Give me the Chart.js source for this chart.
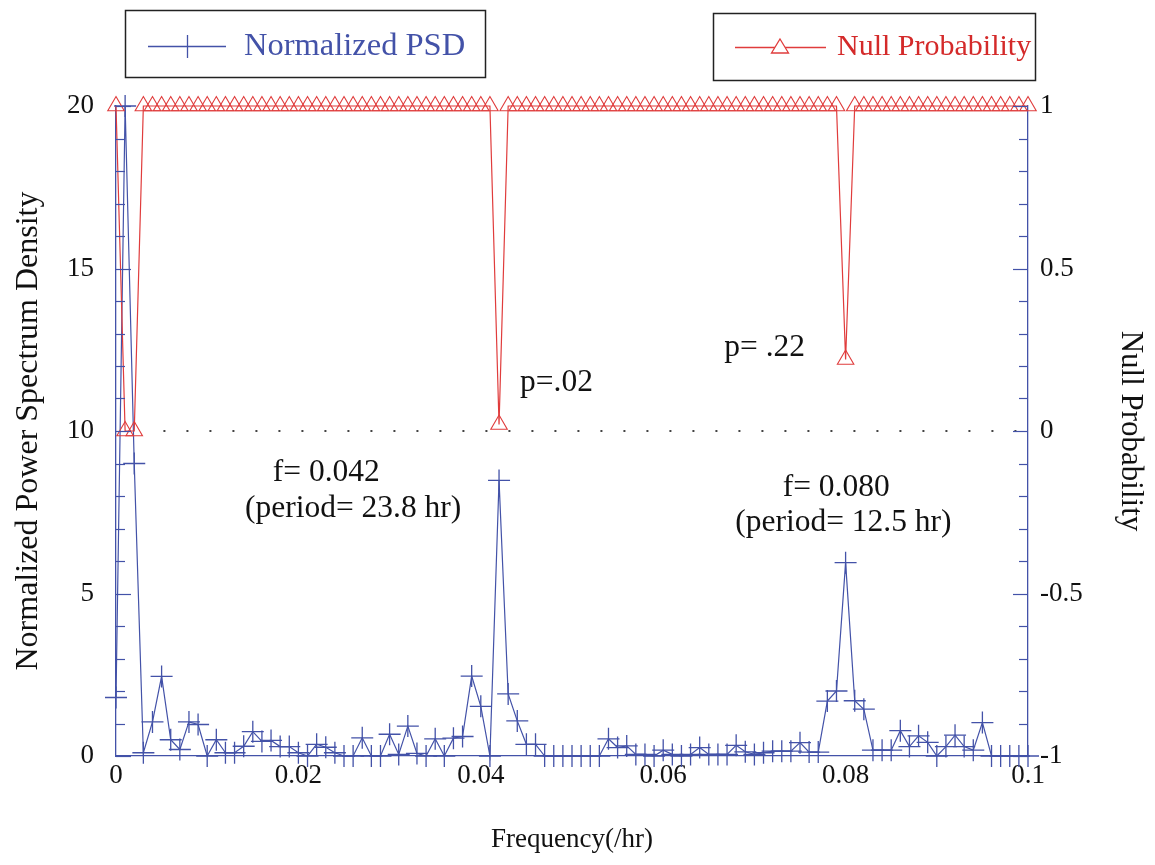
<!DOCTYPE html>
<html>
<head>
<meta charset="utf-8">
<script src="https://cdn.jsdelivr.net/npm/chart.js@4.4.0/dist/chart.umd.min.js"></script>
<style>
html,body{margin:0;padding:0;background:#fff;}
#wrap{width:1155px;height:865px;position:relative;}
</style>
</head>
<body>
<div id="wrap"><canvas id="c" width="1155" height="865"></canvas></div>
<script>
// ---- data ----
const frequency = [
 0.000,0.001,0.002,0.003,0.004,0.005,0.006,0.007,0.008,0.009,
 0.010,0.011,0.012,0.013,0.014,0.015,0.016,0.017,0.018,0.019,
 0.020,0.021,0.022,0.023,0.024,0.025,0.026,0.027,0.028,0.029,
 0.030,0.031,0.032,0.033,0.034,0.035,0.036,0.037,0.038,0.039,
 0.040,0.041,0.042,0.043,0.044,0.045,0.046,0.047,0.048,0.049,
 0.050,0.051,0.052,0.053,0.054,0.055,0.056,0.057,0.058,0.059,
 0.060,0.061,0.062,0.063,0.064,0.065,0.066,0.067,0.068,0.069,
 0.070,0.071,0.072,0.073,0.074,0.075,0.076,0.077,0.078,0.079,
 0.080,0.081,0.082,0.083,0.084,0.085,0.086,0.087,0.088,0.089,
 0.090,0.091,0.092,0.093,0.094,0.095,0.096,0.097,0.098,0.099,
 0.100
];
const normalizedPSD = [
 1.8,20,9.0,0.1,1.05,2.45,0.5,0.2,1.05,0.97,
 0,0.5,0.1,0.1,0.3,0.75,0.45,0.48,0.29,0.29,
 0.1,0,0.36,0.27,0.1,0,0,0.56,0,0,
 0.67,0.05,0.92,0.08,0,0.53,0,0.55,0.6,2.46,
 1.53,0,8.48,1.91,1.08,0.36,0.36,0,0,0,
 0,0,0,0,0.53,0.26,0.31,0.05,0.05,0,
 0.18,0.05,0,0.05,0.26,0.05,0.05,0.05,0.33,0.13,
 0.05,0.1,0.15,0.15,0.15,0.41,0.12,0.12,1.69,2.0,
 5.95,1.7,1.44,0.18,0.18,0.18,0.78,0.29,0.62,0.42,
 0,0.29,0.64,0.29,0.18,1.03,0,0,0,0,
 0
];
const nullProbability = [
 1,0,0,1,1,1,1,1,1,1,
 1,1,1,1,1,1,1,1,1,1,
 1,1,1,1,1,1,1,1,1,1,
 1,1,1,1,1,1,1,1,1,1,
 1,1,0.02,1,1,1,1,1,1,1,
 1,1,1,1,1,1,1,1,1,1,
 1,1,1,1,1,1,1,1,1,1,
 1,1,1,1,1,1,1,1,1,1,
 0.22,1,1,1,1,1,1,1,1,1,
 1,1,1,1,1,1,1,1,1,1,
 1
];
const refLineX = [0.0052, 0.1];
const refLineY = [10, 10];
const xTickLabels = ['0','0.02','0.04','0.06','0.08','0.1'];
const leftTickLabels = ['0','5','10','15','20'];
const rightTickLabels = ['-1','-0.5','0','0.5','1'];
const seriesNames = ['Normalized PSD','Null Probability'];
const annotationTexts = ['p=.02','p= .22','f= 0.042','(period= 23.8 hr)','f= 0.080','(period= 12.5 hr)'];

// ---- styling / layout (not data) ----
const BLUE = '#4352a8';
const RED = '#e03c3c';
const SERIF = "'Liberation Serif', 'DejaVu Serif', serif";
const annotationPos = [
  {x:0.0443, y:11.48},
  {x:0.0667, y:12.55},
  {x:0.0172, y:8.71},
  {x:0.01414, y:7.6},
  {x:0.0731, y:8.25},
  {x:0.0679, y:7.17}
];

const psdPoints = frequency.map((f,i)=>({x:f, y:normalizedPSD[i]}));
const probPoints = frequency.map((f,i)=>({x:f, y:nullProbability[i]}));
const refPoints = refLineX.map((x,i)=>({x:x, y:refLineY[i]}));

const innerTicks = {
  id:'innerTicks',
  afterDraw(chart){
    const ctx = chart.ctx;
    const y = chart.scales.y, y2 = chart.scales.y2;
    const L = chart.chartArea.left, R = chart.chartArea.right;
    ctx.save();
    ctx.strokeStyle = BLUE; ctx.lineWidth = 1.2;
    for(let v=0; v<=20; v++){
      const py = Math.round(y.getPixelForValue(v))+0.5;
      const len = (v%5===0)?15:9;
      ctx.beginPath(); ctx.moveTo(L,py); ctx.lineTo(L+len,py); ctx.stroke();
    }
    for(let k=-10; k<=10; k++){
      const py = Math.round(y2.getPixelForValue(k/10))+0.5;
      const len = (k%5===0)?15:9;
      ctx.beginPath(); ctx.moveTo(R,py); ctx.lineTo(R-len,py); ctx.stroke();
    }
    ctx.restore();
  }
};

const annotations = {
  id:'annotations',
  afterDatasetsDraw(chart){
    const ctx = chart.ctx;
    const xs = chart.scales.x, ys = chart.scales.y;
    ctx.save();
    ctx.fillStyle = '#111';
    ctx.font = '31.5px ' + SERIF;
    ctx.textBaseline = 'middle';
    ctx.textAlign = 'left';
    annotationTexts.forEach((t,i)=>{
      ctx.fillText(t, xs.getPixelForValue(annotationPos[i].x), ys.getPixelForValue(annotationPos[i].y));
    });
    ctx.restore();
  }
};

const legendBoxes = {
  id:'legendBoxes',
  afterDraw(chart){
    const ctx = chart.ctx;
    ctx.save();
    ctx.strokeStyle = '#222'; ctx.lineWidth = 1.5;
    ctx.strokeRect(125.5, 10.5, 360, 67);
    ctx.strokeRect(713.5, 13.5, 322, 67);
    // blue sample
    ctx.strokeStyle = BLUE; ctx.lineWidth = 1.3;
    ctx.beginPath(); ctx.moveTo(148,46.5); ctx.lineTo(226,46.5); ctx.stroke();
    ctx.beginPath(); ctx.moveTo(187.5,35); ctx.lineTo(187.5,58); ctx.stroke();
    // red sample
    ctx.strokeStyle = RED;
    ctx.beginPath(); ctx.moveTo(735,47.5); ctx.lineTo(826,47.5); ctx.stroke();
    ctx.beginPath();
    ctx.moveTo(780,39); ctx.lineTo(788.5,53); ctx.lineTo(771.5,53); ctx.closePath();
    ctx.fillStyle = '#fff'; ctx.fill(); ctx.stroke();
    ctx.textBaseline = 'middle'; ctx.textAlign = 'left';
    ctx.font = '32.5px ' + SERIF;
    ctx.fillStyle = BLUE; ctx.fillText(seriesNames[0], 244, 46);
    ctx.font = '30px ' + SERIF;
    ctx.fillStyle = '#d42a2a'; ctx.fillText(seriesNames[1], 837, 47);
    ctx.restore();
  }
};

const tickFont = {family: SERIF, size: 27};

new Chart(document.getElementById('c'), {
  type: 'line',
  data: {
    datasets: [
      {
        label: seriesNames[1], data: probPoints, yAxisID: 'y2',
        borderColor: RED, borderWidth: 1.2, tension: 0,
        pointStyle: 'triangle', pointRadius: 9.5, pointBorderWidth: 1.1,
        pointBorderColor: RED, pointBackgroundColor: 'rgba(0,0,0,0)', clip: false
      },
      {
        label: seriesNames[0], data: psdPoints, yAxisID: 'y',
        borderColor: BLUE, borderWidth: 1.2, tension: 0,
        pointStyle: 'cross', pointRadius: 11, pointBorderWidth: 1.3,
        pointBorderColor: BLUE, pointBackgroundColor: BLUE, clip: false
      },
      {
        label: 'ref', data: refPoints, yAxisID: 'y',
        borderColor: '#444', borderWidth: 2, borderDash: [2, 21],
        pointRadius: 0, tension: 0, clip: false
      }
    ]
  },
  options: {
    responsive: false,
    animation: false,
    devicePixelRatio: 1,
    layout: {padding: {top: 106, left: 0, right: 0, bottom: 0}},
    plugins: {legend: {display: false}, tooltip: {enabled: false}},
    scales: {
      x: {
        type: 'linear', position: 'bottom', min: 0, max: 0.1,
        afterFit: s => { s.height = 109; },
        afterBuildTicks: s => { s.ticks = xTickLabels.map(t => ({value: parseFloat(t)})); },
        ticks: {
          font: tickFont, color: '#111', padding: 4, maxRotation: 0,
          callback: (v, i) => xTickLabels[i]
        },
        grid: {display: false, drawTicks: false},
        border: {color: BLUE, width: 1.3},
        title: {display: true, text: 'Frequency(/hr)', color: '#111',
                font: {family: SERIF, size: 27}, padding: {top: 0, bottom: 9}}
      },
      y: {
        type: 'linear', position: 'left', min: 0, max: 20,
        afterFit: s => { s.width = 116; },
        afterBuildTicks: s => { s.ticks = leftTickLabels.map(t => ({value: parseFloat(t)})); },
        ticks: {font: tickFont, color: '#111', padding: 22, callback: (v, i) => leftTickLabels[i]},
        grid: {display: false, drawTicks: false},
        border: {color: BLUE, width: 1.3},
        title: {display: true, text: 'Normalized Power Spectrum Density', color: '#111',
                font: {family: SERIF, size: 32}, padding: {top: 9, bottom: 0}}
      },
      y2: {
        type: 'linear', position: 'right', min: -1, max: 1,
        afterFit: s => { s.width = 127; },
        afterBuildTicks: s => { s.ticks = rightTickLabels.map(t => ({value: parseFloat(t)})); },
        ticks: {font: tickFont, color: '#111', padding: 12, callback: (v, i) => rightTickLabels[i]},
        grid: {display: false, drawTicks: false},
        border: {color: BLUE, width: 1.3},
        title: {display: true, text: 'Null Probability', color: '#111',
                font: {family: SERIF, size: 31}, padding: {top: 6, bottom: 0}}
      }
    }
  },
  plugins: [innerTicks, annotations, legendBoxes]
});
</script>
</body>
</html>
